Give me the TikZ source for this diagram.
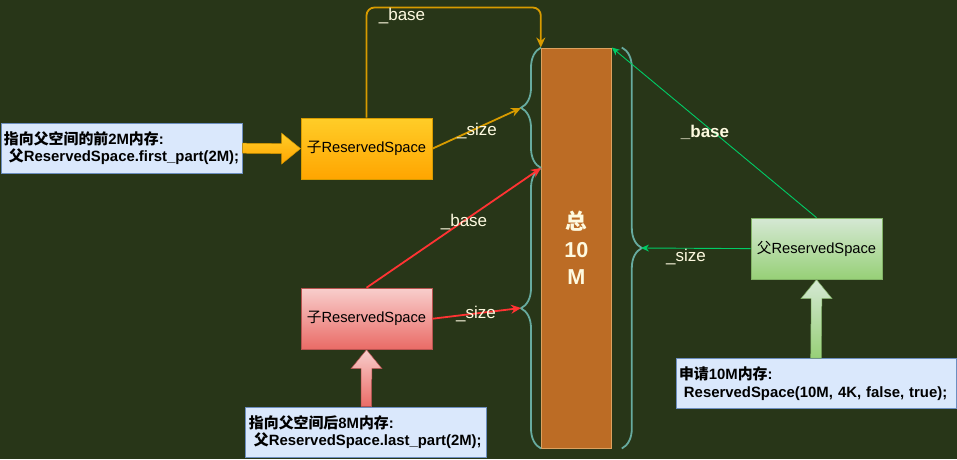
\documentclass[tikz,border=0pt]{standalone}
\usepackage{fontspec}
\setmainfont{Liberation Sans}
\newfontfamily\cjk{Noto Sans CJK SC}
\definecolor{bgdark}{HTML}{283618}
\definecolor{barfill}{HTML}{BC6C25}
\definecolor{barline}{HTML}{DDA15E}
\definecolor{cream}{HTML}{FEFAE0}
\definecolor{bracecol}{HTML}{67AB9F}
\definecolor{notefill}{HTML}{DAE8FC}
\definecolor{notedraw}{HTML}{6C8EBF}
\definecolor{ytop}{HTML}{FFCD28}
\definecolor{ybot}{HTML}{FFA500}
\definecolor{ydraw}{HTML}{D79B00}
\definecolor{rtop}{HTML}{F8CECC}
\definecolor{rbot}{HTML}{EA6B66}
\definecolor{rdraw}{HTML}{B85450}
\definecolor{gtop}{HTML}{D5E8D4}
\definecolor{gbot}{HTML}{97D077}
\definecolor{gdraw}{HTML}{82B366}
\definecolor{redline}{HTML}{FF3333}
\definecolor{greenline}{HTML}{00CC66}
\usetikzlibrary{arrows.meta, calc, decorations.pathreplacing}

\begin{document}
\begin{tikzpicture}[x=1pt, y=-1pt,
  kidbox/.style={line width=1pt, minimum width=131, minimum height=61, inner sep=0pt, font=\fontsize{14.7}{17}\selectfont},
  notebox/.style={draw=notedraw, fill=notefill, line width=1pt, minimum height=50, inner xsep=3pt, align=left, font=\fontsize{14.9}{17.6}\selectfont\bfseries},
  lbl/.style={text=cream, inner sep=0pt, font=\fontsize{17}{20}\selectfont},
  brc/.style={draw=bracecol, line width=1.8pt, decorate, decoration={brace, amplitude=20pt}},
  ylink/.style={draw=ydraw, line width=1.8pt, -{Stealth[length=10pt, width=9pt]}},
  rlink/.style={draw=redline, line width=1.8pt, -{Stealth[length=10pt, width=9pt]}},
  glink/.style={draw=greenline, line width=0.9pt, -{Stealth[length=8pt, width=7pt]}}]
  \useasboundingbox (0,0) rectangle (957,459);
  \fill[bgdark] (0,0) rectangle (957,459);

  % Total space
  \node[draw=barline, fill=barfill, line width=1pt, minimum width=70, minimum height=400, text=cream, align=center, font=\fontsize{21.6}{27.5}\selectfont\bfseries] (bar) at (576.3,248) {{\cjk 总}\\10\\M};

  % Braces
  \coordinate (split) at (541,168);
  \draw[brc] (split) -- (split |- bar.north);
  \draw[brc] (split |- bar.south) -- (split);
  \draw[brc] ($(bar.north east)+(10,0)$) -- ($(bar.south east)+(10,0)$);
  \coordinate (tip1) at (521,108);
  \coordinate (tip2) at (521,308);
  \coordinate (tip3) at (641,248);

  % ReservedSpace boxes
  \node[kidbox, draw=ydraw, top color=ytop, bottom color=ybot] (kid1) at (366.5,148.6) {{\cjk 子}ReservedSpace};
  \node[kidbox, draw=rdraw, top color=rtop, bottom color=rbot] (kid2) at (366.5,318.7) {{\cjk 子}ReservedSpace};
  \node[kidbox, draw=gdraw, top color=gtop, bottom color=gbot] (parent) at (816.5,248.6) {{\cjk 父}ReservedSpace};

  % Notes
  \node[notebox, text width=235] (note1) at (121.5,148.2) {{\cjk 指向父空间的前}2M{\cjk 内存}:\\~{\cjk 父}ReservedSpace.first\_part(2M);};
  \node[notebox, text width=234.7] (note2) at (366.3,432.2) {{\cjk 指向父空间后}8M{\cjk 内存}:\\~{\cjk 父}ReservedSpace.last\_part(2M);};
  \node[notebox, text width=274] (note3) at (816,383.5) {{\cjk 申请}10M{\cjk 内存}:\\~ReservedSpace(10M, 4K, false, true);};

  % Block arrows
  \filldraw[draw=ydraw, line width=0.5pt, top color=ytop, bottom color=ybot] ($(note1.east)+(0,-5)$) -- ($(kid1.west)+(-19,-5)$) -- ($(kid1.west)+(-19,-15.5)$) -- (kid1.west) -- ($(kid1.west)+(-19,15.5)$) -- ($(kid1.west)+(-19,5)$) -- ($(note1.east)+(0,5)$) -- cycle;
  \filldraw[draw=rdraw, line width=0.5pt, top color=rtop, bottom color=rbot] ($(note2.north)+(-5.3,0)$) -- ($(kid2.south)+(-5.3,19)$) -- ($(kid2.south)+(-15.5,19)$) -- (kid2.south) -- ($(kid2.south)+(15.5,19)$) -- ($(kid2.south)+(5.3,19)$) -- ($(note2.north)+(5.3,0)$) -- cycle;
  \filldraw[draw=gdraw, line width=0.5pt, top color=gtop, bottom color=gbot] ($(note3.north)+(-5.3,0)$) -- ($(parent.south)+(-5.3,19)$) -- ($(parent.south)+(-15.5,19)$) -- (parent.south) -- ($(parent.south)+(15.5,19)$) -- ($(parent.south)+(5.3,19)$) -- ($(note3.north)+(5.3,0)$) -- cycle;

  % Links
  \draw[ylink, rounded corners=8] (kid1.north) |- ($(bar.north west)+(0,-40)$) -- (bar.north west);
  \draw[ylink] (kid1.east) -- (tip1);
  \draw[rlink] (kid2.north) -- (split);
  \draw[rlink] (kid2.east) -- (tip2);
  \draw[glink] (parent.north) -- (bar.north east);
  \draw[glink] (parent.west) -- (tip3);

  % Labels
  \node[lbl] (ybase) at (402,16) {\_base};
  \node[lbl] (ysize) at (477,131) {\_size};
  \node[lbl] (rbase) at (464,222) {\_base};
  \node[lbl] (rsize) at (476,314) {\_size};
  \node[lbl, font=\fontsize{17}{20}\selectfont\bfseries] (gbase) at (705,132) {\_base};
  \node[lbl] (gsize) at (686,257) {\_size};
\end{tikzpicture}
\end{document}
